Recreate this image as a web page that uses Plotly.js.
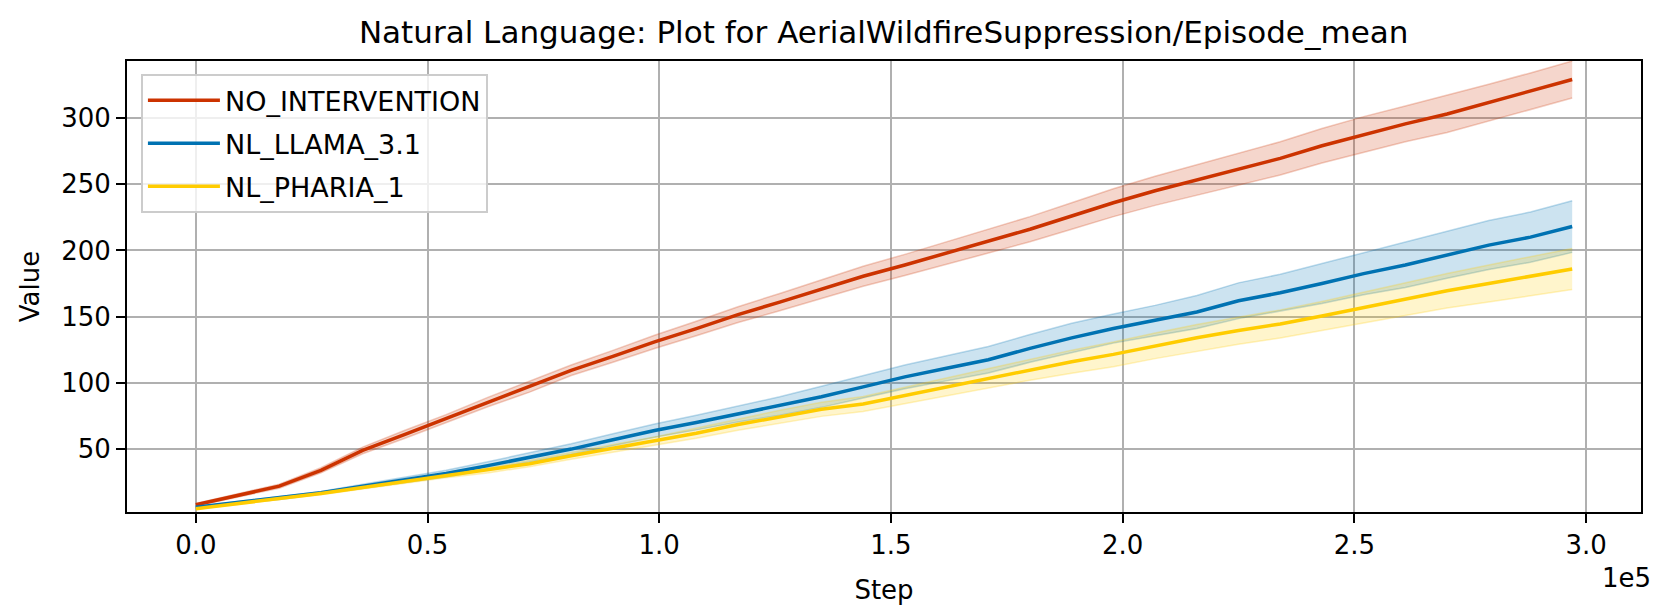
<!DOCTYPE html>
<html>
<head>
<meta charset="utf-8">
<script src="https://cdn.plot.ly/plotly-3.0.1.min.js"></script>
<style>
  html, body { margin: 0; padding: 0; background: #fff; }
  #chart { width: 1661px; height: 614px; }
</style>
</head>
<body>
<div id="chart"></div>
<script>
// training steps of each evaluation point
var steps = [0, 18000, 27000, 36000, 45000, 54000, 63000, 72000, 81000, 90000,
  99000, 108000, 117000, 126000, 135000, 144000, 153000, 162000, 171000, 180000,
  189000, 198000, 207000, 216000, 225000, 234000, 243000, 252000, 261000, 270000,
  279000, 288000, 297000];

// mean episode values
var noIntervention = [8, 22, 34, 49, 61, 73, 85.5, 97, 109.5, 120,
  131, 141, 151.5, 161, 170.5, 180.5, 189, 198, 206.5, 216,
  226, 236, 245, 253, 261.5, 269.5, 279, 287.5, 295.5, 303,
  311.5, 320, 329];
var nlLlama = [6, 13, 17, 22, 26.5, 31.5, 37.5, 43.5, 50, 57,
  64, 70, 76.5, 82.5, 89.5, 97, 104.5, 111, 117.5, 126,
  134, 141, 147, 153.5, 162, 168, 175, 182.5, 189, 196.5,
  204, 210, 218];
var nlPharia = [5, 12.5, 16.5, 21, 25.5, 30, 34, 39, 45, 50.5,
  56, 62, 68.5, 74.5, 80, 84, 90.5, 97, 103.5, 110,
  116, 121.5, 128, 134, 139.5, 144.5, 150.5, 157, 163.5, 169.5,
  175, 180.5, 186];

// half width of the shaded bands
var noInterventionSpread = [1, 1.5, 2, 2.5, 3, 3, 3.5, 4, 4, 4.5,
  5, 5.5, 6, 6.5, 7, 7.5, 8, 8.5, 9, 9.5,
  10, 10.5, 11, 11.5, 12, 12.5, 13, 13.5, 13.5, 14,
  14, 14, 14];
var nlLlamaSpread = [0.5, 1, 1, 1.5, 2, 2.5, 3, 3.5, 4, 4.5,
  5, 5.5, 6, 7, 8, 8.5, 9, 9.5, 10, 10.5,
  11, 11, 11.5, 12.5, 13.5, 14, 15, 16, 17, 17.5,
  18.5, 19, 19.5];
var nlPhariaSpread = [0.5, 0.8, 1, 1.2, 1.4, 1.6, 2, 2.3, 2.6, 3,
  3.2, 3.8, 4.3, 4.8, 5.3, 5.7, 6.2, 6.8, 7.3, 8,
  8.7, 9.3, 9.7, 10, 10.3, 10.6, 11, 11.5, 12.3, 13,
  14, 15, 15.5];

var xTickVals = [0, 50000, 100000, 150000, 200000, 250000, 300000];
var xTickText = ['0.0', '0.5', '1.0', '1.5', '2.0', '2.5', '3.0'];
var yTickVals = [50, 100, 150, 200, 250, 300];

var series = [
  {name: 'NO_INTERVENTION', mean: noIntervention, spread: noInterventionSpread, rgb: '204, 51, 0'},
  {name: 'NL_LLAMA_3.1', mean: nlLlama, spread: nlLlamaSpread, rgb: '0, 114, 178'},
  {name: 'NL_PHARIA_1', mean: nlPharia, spread: nlPhariaSpread, rgb: '255, 204, 0'}
];

var bands = [];
var lines = [];
series.forEach(function(s, k) {
  var upper = s.mean.map(function(v, i) { return v + s.spread[i]; });
  var lower = s.mean.map(function(v, i) { return v - s.spread[i]; });
  bands.push({x: steps, y: upper, mode: 'lines', showlegend: false, hoverinfo: 'skip',
    legendgroup: 'g' + k,
    line: {color: 'rgba(' + s.rgb + ', 0.25)', width: 1.5}});
  bands.push({x: steps, y: lower, mode: 'lines', fill: 'tonexty', showlegend: false, hoverinfo: 'skip',
    legendgroup: 'g' + k,
    fillcolor: 'rgba(' + s.rgb + ', 0.2)',
    line: {color: 'rgba(' + s.rgb + ', 0.25)', width: 1.5}});
  lines.push({x: steps, y: s.mean, mode: 'lines', name: s.name, legendgroup: 'g' + k,
    line: {color: 'rgb(' + s.rgb + ')', width: 3.5}});
});

var font = {family: 'DejaVu Sans, sans-serif', size: 26, color: '#000'};
var legendFont = {family: 'DejaVu Sans, sans-serif', size: 27, color: '#000'};

var layout = {
  width: 1661,
  height: 614,
  margin: {l: 127, r: 20, t: 61, b: 102},
  paper_bgcolor: '#fff',
  plot_bgcolor: '#fff',
  font: font,
  title: {
    text: 'Natural Language: Plot for AerialWildfireSuppression/Episode_mean',
    font: {family: 'DejaVu Sans, sans-serif', size: 31, color: '#000'},
    x: 0.532, xanchor: 'center',
    y: 0.948, yref: 'container', yanchor: 'middle'
  },
  showlegend: true,
  legend: {
    x: 0.0092, y: 0.971, xanchor: 'left', yanchor: 'top',
    bgcolor: 'rgba(255,255,255,0.8)',
    bordercolor: '#cccccc', borderwidth: 2,
    font: legendFont,
    traceorder: 'grouped',
    tracegroupgap: 5,
    itemwidth: 72
  },
  xaxis: {
    range: [-14850, 311850],
    tickmode: 'array', tickvals: xTickVals, ticktext: xTickText,
    ticks: 'outside', ticklen: 9, tickwidth: 2, tickcolor: '#000',
    showline: true, mirror: true, linecolor: '#000', linewidth: 2,
    showgrid: true, gridcolor: '#b0b0b0', gridwidth: 2,
    zeroline: false,
    tickfont: font,
    title: {text: 'Step', font: font, standoff: 22}
  },
  yaxis: {
    range: [2.5, 343],
    tickmode: 'array', tickvals: yTickVals,
    ticks: 'outside', ticklen: 9, tickwidth: 2, tickcolor: '#000',
    showline: true, mirror: true, linecolor: '#000', linewidth: 2,
    showgrid: true, gridcolor: '#b0b0b0', gridwidth: 2,
    zeroline: false,
    tickfont: font,
    title: {text: 'Value', font: font, standoff: 14}
  },
  annotations: [{
    text: '1e5', xref: 'paper', yref: 'paper', x: 1.008, y: -0.146,
    xanchor: 'right', yanchor: 'middle', showarrow: false, font: font
  }]
};

Plotly.newPlot(document.getElementById('chart'), bands.concat(lines), layout,
  {displayModeBar: false, responsive: false});
</script>
</body>
</html>
